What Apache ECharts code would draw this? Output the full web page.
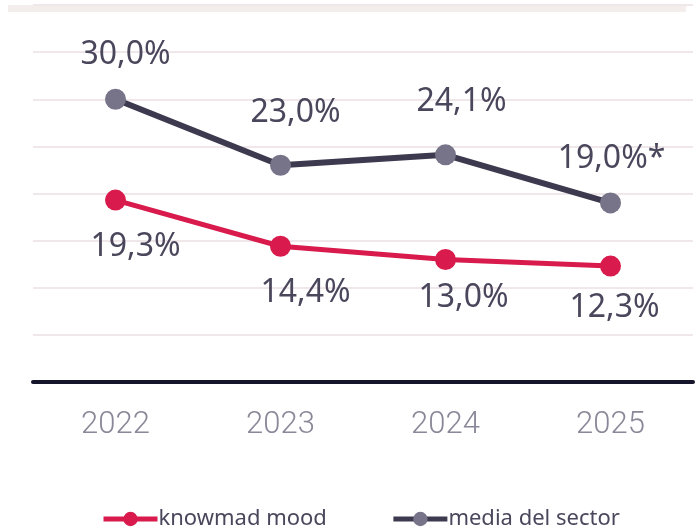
<!DOCTYPE html>
<html>
<head>
<meta charset="utf-8">
<script src="https://cdn.jsdelivr.net/npm/echarts@6/dist/echarts.min.js"></script>
<style>
  * { margin: 0; padding: 0; }
  body { background: #ffffff; }
  #chart { width: 699px; height: 529px; }
</style>
</head>
<body>
<div id="chart"></div>
<script>
// data
var years = ['2022', '2023', '2024', '2025'];
var knowmadMood = [19.3, 14.4, 13.0, 12.3];
var mediaSector = [30.0, 23.0, 24.1, 19.0];
var mediaNotes = ['', '', '', '*'];
var seriesNames = ['knowmad mood', 'media del sector'];

// label nudges (px), kept apart from the data
var knowmadOffsets = [[20, 0], [25, 0], [18, -8], [4, -5]];
var mediaOffsets = [[10, 0], [15, -8], [16, -8], [1, 0]];

function fmt(v) {
  return v.toFixed(1).replace('.', ',') + '%';
}

var labelStyle = {
  color: '#4a475c',
  fontFamily: 'Noto Sans',
  fontSize: 32
};

var chart = echarts.init(document.getElementById('chart'));
chart.setOption({
  animation: false,
  backgroundColor: '#ffffff',
  graphic: [{
    type: 'rect',
    shape: { x: 8, y: 5, width: 678, height: 7 },
    style: { fill: '#f3eeeb' }
  }],
  grid: { left: 33, right: 6, top: 5, bottom: 147 },
  legend: {
    top: 503,
    left: 96,
    itemWidth: 54,
    itemHeight: 18,
    itemGap: 64,
    lineStyle: { width: 5 },
    textStyle: { color: '#4a475c', fontFamily: 'Noto Sans', fontSize: 22, padding: [0, 0, 0, -4] },
    data: seriesNames
  },
  xAxis: {
    type: 'category',
    data: years,
    axisLine: { lineStyle: { color: '#14142b', width: 4 } },
    axisTick: { show: false },
    axisLabel: {
      color: '#8a8798',
      fontFamily: 'Roboto',
      fontWeight: 300,
      fontSize: 31,
      margin: 28
    }
  },
  yAxis: {
    type: 'value',
    min: 0,
    max: 40,
    interval: 5,
    axisLine: { show: false },
    axisTick: { show: false },
    axisLabel: { show: false },
    splitLine: { lineStyle: { color: '#efe7e9', width: 2 } }
  },
  series: [
    {
      name: seriesNames[0],
      type: 'line',
      data: knowmadMood.map(function (v, i) {
        return { value: v, label: { offset: knowmadOffsets[i] } };
      }),
      symbol: 'circle',
      symbolSize: 21,
      lineStyle: { color: '#d81b4c', width: 5 },
      itemStyle: { color: '#d81b4c' },
      label: Object.assign({
        show: true,
        position: 'bottom',
        distance: 20,
        formatter: function (p) { return fmt(p.value); }
      }, labelStyle)
    },
    {
      name: seriesNames[1],
      type: 'line',
      data: mediaSector.map(function (v, i) {
        return { value: v, label: { offset: mediaOffsets[i] } };
      }),
      symbol: 'circle',
      symbolSize: 21,
      lineStyle: { color: '#3d3a4f', width: 6 },
      itemStyle: { color: '#77748a' },
      label: Object.assign({
        show: true,
        position: 'top',
        distance: 18,
        formatter: function (p) { return fmt(p.value) + mediaNotes[p.dataIndex]; }
      }, labelStyle)
    }
  ]
});
</script>
</body>
</html>
